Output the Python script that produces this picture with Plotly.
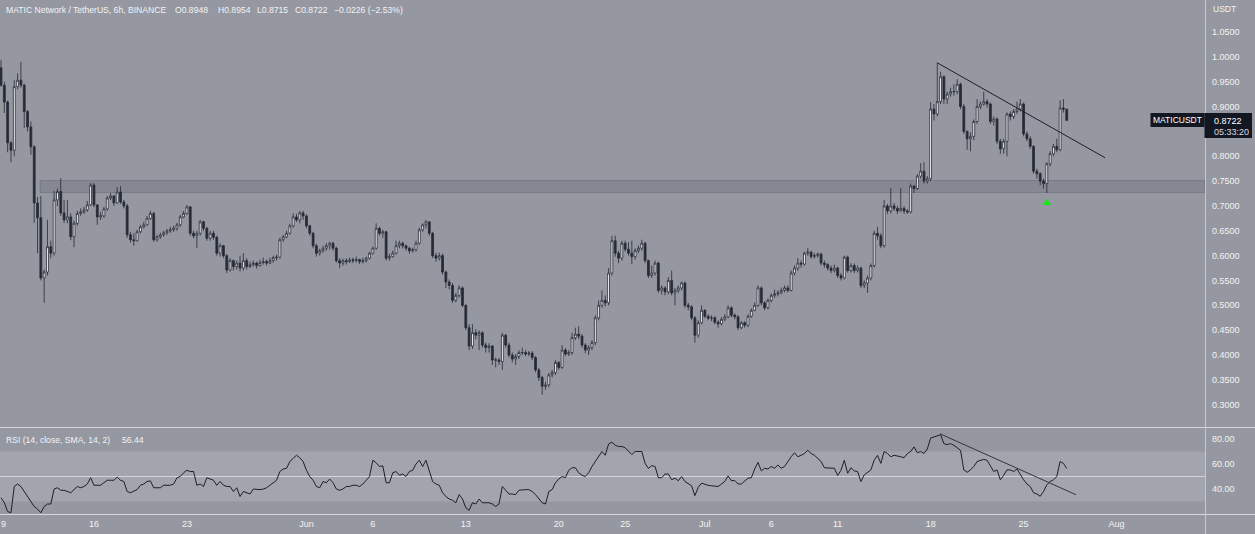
import pandas as pd
import plotly.graph_objects as go

# ---------------- data ----------------
first_open = 0.978
close = [
    0.943, 0.909, 0.827, 0.812, 0.940, 0.953, 0.943, 0.890, 0.859, 0.819,
    0.706, 0.676, 0.555, 0.567, 0.618, 0.605, 0.712, 0.729, 0.686, 0.672,
    0.678, 0.638, 0.665, 0.685, 0.688, 0.692, 0.702, 0.742, 0.702, 0.678,
    0.680, 0.694, 0.716, 0.720, 0.706, 0.728, 0.708, 0.700, 0.642, 0.632,
    0.630, 0.648, 0.658, 0.662, 0.675, 0.685, 0.632, 0.638, 0.642, 0.646,
    0.650, 0.652, 0.655, 0.662, 0.678, 0.685, 0.698, 0.645, 0.640, 0.645,
    0.668, 0.655, 0.635, 0.645, 0.637, 0.605, 0.620, 0.600, 0.571, 0.590,
    0.578, 0.585, 0.575, 0.590, 0.578, 0.582, 0.585, 0.580, 0.586, 0.588,
    0.585, 0.590, 0.596, 0.597, 0.632, 0.638, 0.645, 0.660, 0.678, 0.672,
    0.686, 0.680, 0.660, 0.645, 0.620, 0.605, 0.610, 0.615, 0.620, 0.625,
    0.615, 0.590, 0.585, 0.590, 0.588, 0.592, 0.590, 0.592, 0.588, 0.590,
    0.595, 0.605, 0.615, 0.655, 0.645, 0.648, 0.595, 0.598, 0.605, 0.620,
    0.625, 0.620, 0.615, 0.610, 0.612, 0.625, 0.652, 0.662, 0.668, 0.645,
    0.600, 0.595, 0.600, 0.567, 0.547, 0.540, 0.510, 0.520, 0.535, 0.500,
    0.455, 0.418, 0.445, 0.440, 0.445, 0.420, 0.415, 0.418, 0.390, 0.390,
    0.387, 0.440, 0.420, 0.400, 0.392, 0.397, 0.405, 0.405, 0.402, 0.404,
    0.395, 0.370, 0.355, 0.337, 0.340, 0.360, 0.365, 0.385, 0.375, 0.410,
    0.402, 0.405, 0.435, 0.442, 0.438, 0.420, 0.410, 0.415, 0.425, 0.475,
    0.500, 0.510, 0.505, 0.565, 0.630, 0.605, 0.595, 0.625, 0.613, 0.605,
    0.598, 0.610, 0.615, 0.625, 0.590, 0.560, 0.565, 0.585, 0.530, 0.535,
    0.527, 0.550, 0.525, 0.530, 0.535, 0.545, 0.500, 0.497, 0.475, 0.440,
    0.465, 0.490, 0.478, 0.474, 0.475, 0.466, 0.463, 0.472, 0.477, 0.495,
    0.480, 0.477, 0.455, 0.465, 0.460, 0.478, 0.490, 0.500, 0.535, 0.505,
    0.495, 0.510, 0.520, 0.523, 0.525, 0.530, 0.535, 0.530, 0.565, 0.575,
    0.585, 0.583, 0.605, 0.607, 0.598, 0.600, 0.603, 0.585, 0.582, 0.575,
    0.570, 0.575, 0.560, 0.555, 0.597, 0.570, 0.580, 0.570, 0.575, 0.540,
    0.545, 0.555, 0.580, 0.645, 0.640, 0.620, 0.700, 0.690, 0.700, 0.695,
    0.690, 0.695, 0.690, 0.688, 0.740, 0.735, 0.760, 0.770, 0.750, 0.755,
    0.895, 0.885, 0.910, 0.960, 0.915, 0.925, 0.930, 0.930, 0.945, 0.900,
    0.850, 0.835, 0.840, 0.870, 0.900, 0.905, 0.910, 0.905, 0.870, 0.875,
    0.830, 0.815, 0.830, 0.885, 0.880, 0.890, 0.895, 0.905, 0.845, 0.835,
    0.820, 0.770, 0.765, 0.750, 0.745, 0.785, 0.805, 0.820, 0.813, 0.897,
    0.8948, 0.8722,
]
high = [
    0.994, 0.950, 0.912, 0.830, 0.953, 0.967, 0.990, 0.946, 0.893, 0.870,
    0.822, 0.718, 0.720, 0.572, 0.672, 0.630, 0.730, 0.735, 0.756, 0.712,
    0.712, 0.685, 0.670, 0.690, 0.695, 0.698, 0.710, 0.746, 0.746, 0.704,
    0.688, 0.698, 0.720, 0.726, 0.722, 0.738, 0.740, 0.712, 0.704, 0.648,
    0.645, 0.652, 0.662, 0.668, 0.680, 0.690, 0.688, 0.642, 0.646, 0.650,
    0.654, 0.658, 0.660, 0.666, 0.682, 0.690, 0.702, 0.700, 0.650, 0.650,
    0.672, 0.670, 0.658, 0.650, 0.650, 0.640, 0.625, 0.622, 0.603, 0.595,
    0.592, 0.590, 0.600, 0.605, 0.595, 0.588, 0.590, 0.588, 0.592, 0.596,
    0.592, 0.596, 0.600, 0.602, 0.636, 0.642, 0.650, 0.664, 0.685, 0.684,
    0.690, 0.690, 0.683, 0.662, 0.648, 0.624, 0.614, 0.620, 0.625, 0.628,
    0.628, 0.618, 0.595, 0.594, 0.595, 0.596, 0.596, 0.598, 0.594, 0.596,
    0.598, 0.608, 0.618, 0.665, 0.658, 0.652, 0.650, 0.604, 0.610, 0.630,
    0.630, 0.628, 0.622, 0.618, 0.616, 0.630, 0.656, 0.665, 0.672, 0.668,
    0.648, 0.606, 0.606, 0.604, 0.570, 0.552, 0.545, 0.525, 0.540, 0.538,
    0.502, 0.462, 0.462, 0.452, 0.450, 0.448, 0.425, 0.424, 0.420, 0.395,
    0.394, 0.445, 0.442, 0.425, 0.405, 0.402, 0.410, 0.415, 0.410, 0.408,
    0.408, 0.398, 0.374, 0.358, 0.346, 0.364, 0.370, 0.390, 0.388, 0.420,
    0.414, 0.410, 0.445, 0.455, 0.458, 0.442, 0.424, 0.420, 0.430, 0.480,
    0.510, 0.530, 0.520, 0.575, 0.640, 0.640, 0.610, 0.630, 0.630, 0.627,
    0.630, 0.615, 0.620, 0.632, 0.628, 0.592, 0.580, 0.590, 0.588, 0.540,
    0.538, 0.557, 0.570, 0.535, 0.540, 0.548, 0.548, 0.505, 0.500, 0.478,
    0.470, 0.500, 0.492, 0.482, 0.480, 0.478, 0.470, 0.476, 0.482, 0.500,
    0.498, 0.484, 0.480, 0.468, 0.468, 0.482, 0.494, 0.506, 0.540, 0.538,
    0.508, 0.514, 0.524, 0.532, 0.530, 0.536, 0.540, 0.540, 0.570, 0.580,
    0.595, 0.590, 0.608, 0.615, 0.610, 0.605, 0.606, 0.606, 0.590, 0.585,
    0.580, 0.582, 0.578, 0.565, 0.600, 0.600, 0.585, 0.584, 0.580, 0.578,
    0.550, 0.560, 0.584, 0.650, 0.658, 0.645, 0.712, 0.704, 0.736, 0.706,
    0.700, 0.736, 0.700, 0.694, 0.745, 0.742, 0.764, 0.786, 0.788, 0.760,
    0.909, 0.905, 0.988, 0.970, 0.963, 0.930, 0.938, 0.945, 0.955, 0.948,
    0.905, 0.852, 0.848, 0.874, 0.915, 0.910, 0.930, 0.915, 0.908, 0.880,
    0.878, 0.835, 0.835, 0.888, 0.890, 0.895, 0.910, 0.915, 0.908, 0.850,
    0.840, 0.822, 0.775, 0.768, 0.755, 0.788, 0.810, 0.825, 0.835, 0.913,
    0.915, 0.8954,
]
low = [
    0.940, 0.887, 0.808, 0.788, 0.800, 0.935, 0.938, 0.857, 0.850, 0.803,
    0.666, 0.605, 0.550, 0.505, 0.560, 0.595, 0.600, 0.700, 0.680, 0.666,
    0.665, 0.631, 0.617, 0.660, 0.680, 0.684, 0.688, 0.700, 0.698, 0.662,
    0.672, 0.676, 0.690, 0.712, 0.700, 0.704, 0.704, 0.695, 0.636, 0.626,
    0.620, 0.628, 0.645, 0.655, 0.660, 0.672, 0.628, 0.628, 0.634, 0.638,
    0.642, 0.646, 0.648, 0.650, 0.658, 0.675, 0.682, 0.640, 0.635, 0.615,
    0.640, 0.650, 0.630, 0.630, 0.632, 0.600, 0.598, 0.595, 0.565, 0.568,
    0.570, 0.572, 0.568, 0.570, 0.572, 0.575, 0.578, 0.574, 0.578, 0.582,
    0.580, 0.583, 0.586, 0.590, 0.594, 0.628, 0.635, 0.642, 0.656, 0.668,
    0.665, 0.672, 0.655, 0.640, 0.615, 0.598, 0.600, 0.606, 0.610, 0.612,
    0.610, 0.586, 0.575, 0.580, 0.582, 0.585, 0.585, 0.586, 0.583, 0.584,
    0.586, 0.592, 0.602, 0.612, 0.640, 0.636, 0.590, 0.590, 0.596, 0.602,
    0.615, 0.614, 0.610, 0.604, 0.606, 0.608, 0.622, 0.648, 0.655, 0.640,
    0.595, 0.588, 0.590, 0.562, 0.535, 0.532, 0.505, 0.506, 0.515, 0.496,
    0.450, 0.410, 0.412, 0.432, 0.410, 0.415, 0.405, 0.405, 0.380, 0.375,
    0.380, 0.370, 0.415, 0.395, 0.385, 0.380, 0.392, 0.400, 0.398, 0.398,
    0.390, 0.365, 0.348, 0.320, 0.330, 0.335, 0.355, 0.360, 0.370, 0.372,
    0.398, 0.398, 0.400, 0.430, 0.432, 0.415, 0.404, 0.400, 0.410, 0.420,
    0.470, 0.495, 0.498, 0.500, 0.560, 0.598, 0.585, 0.590, 0.608, 0.600,
    0.583, 0.592, 0.605, 0.610, 0.585, 0.555, 0.555, 0.560, 0.525, 0.522,
    0.520, 0.522, 0.520, 0.500, 0.525, 0.530, 0.495, 0.490, 0.470, 0.425,
    0.435, 0.462, 0.474, 0.470, 0.468, 0.462, 0.455, 0.460, 0.468, 0.474,
    0.476, 0.472, 0.450, 0.452, 0.455, 0.456, 0.475, 0.488, 0.497, 0.500,
    0.490, 0.492, 0.506, 0.515, 0.518, 0.522, 0.526, 0.526, 0.528, 0.560,
    0.570, 0.576, 0.580, 0.600, 0.594, 0.594, 0.596, 0.580, 0.576, 0.570,
    0.565, 0.566, 0.555, 0.550, 0.552, 0.566, 0.566, 0.565, 0.566, 0.535,
    0.535, 0.525, 0.550, 0.576, 0.632, 0.615, 0.616, 0.684, 0.685, 0.690,
    0.684, 0.688, 0.684, 0.684, 0.685, 0.726, 0.732, 0.755, 0.745, 0.745,
    0.750, 0.872, 0.880, 0.905, 0.905, 0.905, 0.920, 0.922, 0.925, 0.895,
    0.845, 0.813, 0.810, 0.832, 0.865, 0.895, 0.902, 0.898, 0.865, 0.862,
    0.825, 0.805, 0.805, 0.800, 0.872, 0.875, 0.885, 0.890, 0.840, 0.830,
    0.815, 0.765, 0.755, 0.742, 0.735, 0.726, 0.780, 0.800, 0.808, 0.810,
    0.888, 0.8715,
]
rsi = [
    33, 29, 22, 21, 42, 44, 42, 38, 35, 30,
    26, 24, 21, 26, 28, 28, 40, 41, 39, 39,
    38, 37, 39.5, 42, 41, 42, 44, 49, 43, 43,
    43, 45, 47, 47, 47, 49.5, 47, 46, 38, 37,
    38, 39.5, 43, 44, 46, 46.5, 41, 41, 41, 43,
    43, 43, 44, 49, 50, 53, 55, 54, 54, 43,
    44, 42, 49, 48, 47, 43, 46, 43, 42, 42,
    38, 41, 34, 38, 37, 36, 40, 39.5, 39.5, 40,
    41, 43, 45, 47, 54, 56, 56.5, 62, 64.5, 67,
    65, 62, 55, 50, 47, 42, 41, 46, 45, 48,
    45, 40, 39, 40, 42, 42, 43, 43, 42, 44,
    47, 50, 63, 61, 58, 58.5, 45, 45, 53, 54,
    51, 52, 50, 54, 55, 60, 63, 58, 63, 54,
    46, 44, 43, 37, 34, 32, 31, 29, 35.5, 32,
    25, 23, 29, 28, 32, 29, 29, 29, 28, 26,
    28, 42, 39, 36, 36, 35.5, 39, 39.5, 39.5, 39.5,
    38, 35.5, 32, 29, 28, 38, 39.5, 45, 48, 50,
    49, 55, 57, 57, 53, 51, 50, 53, 58, 62,
    67, 70, 67, 76, 77.5, 75, 74, 74, 73, 70,
    67.6, 70, 70, 70, 60.5, 56.5, 58.7, 58, 49, 49,
    52, 52, 47.4, 48.7, 46.6, 50, 46, 44, 42.6, 34.7,
    41.3, 44.7, 43.5, 42.9, 42.6, 42, 42, 44, 46, 50.5,
    46.6, 46.8, 44, 44, 46, 48.7, 49, 56, 61.3, 54.5,
    56.6, 56, 58, 56.6, 59.2, 56.6, 58, 62.4, 65.8, 69,
    65.8, 67, 68.4, 71, 68.4, 67, 64.5, 62, 57, 57,
    57, 56.6, 50.8, 55, 63, 52.6, 57, 54.5, 54, 46,
    51.3, 53, 55.3, 63, 67, 60.5, 70, 68.4, 65.8, 67,
    66.6, 65.8, 65, 68.4, 70, 73.7, 69, 70, 68.4, 72,
    80.8, 81.6, 82, 83.4, 76.3, 75.5, 76.3, 75, 73, 71,
    55.3, 53.4, 55.3, 58, 62, 63, 63.7, 63, 58, 54,
    55.3, 47.4, 51, 55.3, 55.3, 54, 56, 51.3, 47.4, 44,
    42, 37, 36, 34.2, 38, 43.4, 46, 47.4, 50, 62,
    60.5, 56.44,
]
start_time = "2021-05-09 00:00"

# 0.85 is hidden behind the last-price box in the reference
price_ticks = [0.30, 0.35, 0.40, 0.45, 0.50, 0.55, 0.60, 0.65, 0.70, 0.75,
               0.80, 0.90, 0.95, 1.00, 1.05]
rsi_ticks = [40, 60, 80]
date_ticks = ["2021-05-16", "2021-05-23", "2021-06-01", "2021-06-06",
              "2021-06-13", "2021-06-20", "2021-06-25", "2021-07-01", "2021-07-06",
              "2021-07-11", "2021-07-18", "2021-07-25", "2021-08-01"]
date_labels = ["16", "23", "Jun", "6", "13", "20", "25", "Jul", "6", "11", "18", "25", "Aug"]
edge_label = "9"  # May 9 tick, clipped at the left edge in the reference

# drawn objects on the chart
zone_low, zone_high, zone_start = 0.727, 0.751, "2021-05-11 22:30"
price_trend = (["2021-07-18 12:00", "2021-07-31 03:10"], [0.988, 0.797])
rsi_trend = (["2021-07-18 16:48", "2021-07-28 22:48"], [84.2, 35.4])
signal_x, signal_y = ["2021-07-26 18:00"], [0.706]
last_price, countdown = "0.8722", "05:33:20"

# ---------------- figure ----------------
times = pd.date_range(start_time, periods=len(close), freq="6h")
open_ = [first_open] + close[:-1]

W, H = 1255, 534
BG = "#9598a1"
DARK = "#262a35"
TXT = "#f2f3f5"
FONT = "Liberation Sans, Arial, sans-serif"
x_range = ["2021-05-08 22:12", "2021-08-07 15:50"]

fig = go.Figure()
fig.add_trace(go.Candlestick(
    x=times, open=open_, high=high, low=low, close=close,
    increasing=dict(fillcolor="#ffffff", line=dict(color=DARK, width=0.8)),
    decreasing=dict(fillcolor=DARK, line=dict(color=DARK, width=0.8)),
    whiskerwidth=0, xaxis="x", yaxis="y", hoverinfo="skip", showlegend=False))
fig.add_trace(go.Scatter(
    x=signal_x, y=signal_y, mode="markers", xaxis="x", yaxis="y",
    marker=dict(symbol="triangle-up", size=8, color="#19e619"),
    hoverinfo="skip", showlegend=False))
fig.add_trace(go.Scatter(
    x=times, y=rsi, mode="lines", xaxis="x", yaxis="y2",
    line=dict(color="#1c1f28", width=1), hoverinfo="skip", showlegend=False))
fig.add_trace(go.Scatter(
    x=price_trend[0], y=price_trend[1], mode="lines", xaxis="x", yaxis="y",
    line=dict(color="#1c1f28", width=1), hoverinfo="skip", showlegend=False))
fig.add_trace(go.Scatter(
    x=rsi_trend[0], y=rsi_trend[1], mode="lines", xaxis="x", yaxis="y2",
    line=dict(color="#33363f", width=1), hoverinfo="skip", showlegend=False))

xd = 1205 / W
shapes = [
    dict(type="rect", xref="x", yref="y", x0=zone_start, x1=x_range[1],
         y0=zone_low, y1=zone_high, fillcolor="rgba(50,54,66,0.16)",
         line=dict(width=1, color="rgba(50,54,66,0.22)"), layer="below"),
    dict(type="rect", xref="x domain", yref="y2", x0=0, x1=1, y0=30, y1=70,
         fillcolor="rgba(255,255,255,0.13)", line=dict(width=0), layer="below"),
    dict(type="line", xref="x domain", yref="y2", x0=0, x1=1, y0=50, y1=50,
         line=dict(color="rgba(255,255,255,0.55)", width=1), layer="below"),
    # pane separators
    dict(type="line", xref="paper", yref="paper", x0=0, x1=1,
         y0=1 - 427.5 / H, y1=1 - 427.5 / H, line=dict(color="#d6d8de", width=1)),
    dict(type="line", xref="paper", yref="paper", x0=0, x1=1,
         y0=1 - 514.5 / H, y1=1 - 514.5 / H, line=dict(color="#d6d8de", width=1)),
    dict(type="line", xref="paper", yref="paper", x0=1205.5 / W, x1=1205.5 / W,
         y0=0, y1=1, line=dict(color="#c4c7ce", width=1)),
    # symbol + last price boxes
    dict(type="rect", xref="paper", yref="paper", x0=1150.5 / W, x1=1204.5 / W,
         y0=1 - 127 / H, y1=1 - 113 / H, fillcolor="#131722", line=dict(width=0)),
    dict(type="rect", xref="paper", yref="paper", x0=1204.5 / W, x1=1252 / W,
         y0=1 - 138 / H, y1=1 - 113 / H, fillcolor="#131722", line=dict(width=0)),
]


def ann(text, px, py, size=9, anchor="left", color=TXT):
    return dict(text=text, xref="paper", yref="paper", x=px / W, y=1 - py / H,
                xanchor=anchor, yanchor="middle", showarrow=False,
                font=dict(family=FONT, size=size, color=color))


annotations = [
    ann("MATIC Network / TetherUS, 6h, BINANCE", 4, 10.5, 8.6),
    ann("O0.8948", 173, 10.5, 8.6),
    ann("H0.8954", 216, 10.5, 8.6),
    ann("L0.8715", 255, 10.5, 8.6),
    ann("C0.8722", 293, 10.5, 8.6),
    ann("\u22120.0226 (\u22122.53%)", 332, 10.5, 8.6),
    ann("RSI (14, close, SMA, 14, 2)", 4, 439.5, 8.6),
    ann("56.44", 120, 439.5, 8.6),
    ann("USDT", 1211, 9, 8.5),
    ann("MATICUSDT", 1177.5, 120, 8.5, "center", "#ffffff"),
    ann(last_price, 1212, 120.5, 9, "left", "#ffffff"),
    ann(countdown, 1212, 131.5, 9, "left", "#d9dbe0"),
    ann(edge_label, -1, 524, 9),
]

fig.update_layout(
    width=W, height=H, margin=dict(l=0, r=0, t=0, b=0),
    paper_bgcolor=BG, plot_bgcolor=BG, showlegend=False, hovermode=False,
    font=dict(family=FONT, size=9, color=TXT),
    boxgap=0.2,
    shapes=shapes, annotations=annotations,
    xaxis=dict(domain=[0, xd], type="date", range=x_range, anchor="y2",
               tickvals=date_ticks, ticktext=date_labels, showgrid=False,
               zeroline=False, showline=False, ticks="", ticklabelstandoff=3,
               tickfont=dict(family=FONT, size=9, color=TXT),
               rangeslider=dict(visible=False), fixedrange=True),
    yaxis=dict(domain=[1 - 427 / H, 1], range=[0.2552, 1.1144], side="right",
               anchor="x", tickvals=price_ticks, tickformat=".4f", showgrid=False,
               zeroline=False, showline=False, ticks="", ticklabelstandoff=6,
               tickfont=dict(family=FONT, size=9, color=TXT)),
    yaxis2=dict(domain=[1 - 514 / H, 1 - 428 / H], range=[20, 88.8], side="right",
                anchor="x", tickvals=rsi_ticks, tickformat=".2f", showgrid=False,
                zeroline=False, showline=False, ticks="", ticklabelstandoff=6,
                tickfont=dict(family=FONT, size=9, color=TXT)),
)

fig.write_html("out.html", config={"displayModeBar": False},
               post_script="document.body.style.margin='0px';")
